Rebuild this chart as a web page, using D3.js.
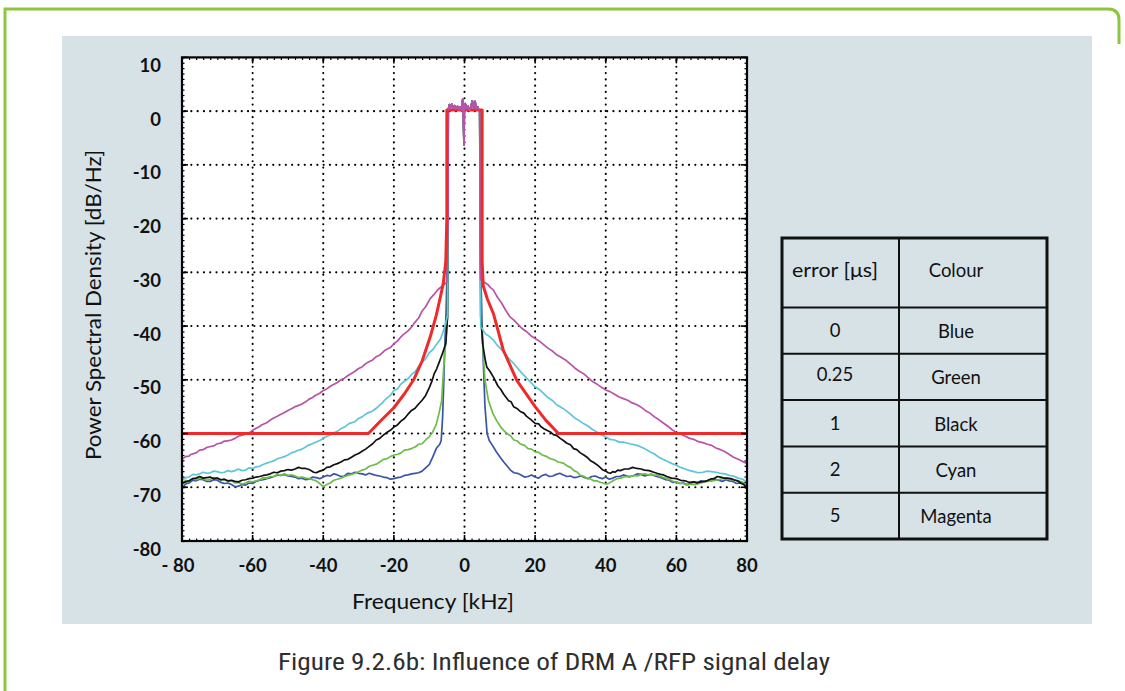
<!DOCTYPE html>
<html><head><meta charset="utf-8">
<script src="https://cdn.jsdelivr.net/npm/d3@7"></script>
<style>html,body{margin:0;padding:0;background:#fff;}svg{display:block;}</style>
</head><body>
<svg id="c" width="1125" height="691"></svg>
<script>
// ---------- data ----------
const xTicks = [-80,-60,-40,-20,0,20,40,60,80];
const xTickLabels = ["- 80","-60","-40","-20","0","20","40","60","80"];
const yTicks = [10,0,-10,-20,-30,-40,-50,-60,-70,-80];
const yTickLabels = ["10","0","-10","-20","-30","-40","-50","-60","-70","-80"];

const errorValues = ["0","0.25","1","2","5"];
const colourNames = ["Blue","Green","Black","Cyan","Magenta"];

// shared in-band plateau (all traces overlap here)
const plateau = [[-4.6,0.2],[-4.3,1.2],[-4.0,0.6],[-3.6,1.3],[-3.2,0.5],[-2.8,1.0],[-2.4,0.4],[-2.0,0.9],[-1.6,0.3],[-1.2,0.8],[-0.8,0.2],[-0.5,2.2],[-0.35,0.5],[-0.15,-6.3],[-0.05,0.2],[0.2,1.4],[0.6,0.4],[1.0,0.9],[1.4,0.2],[1.8,0.7],[2.2,1.9],[2.6,0.5],[3.0,1.8],[3.3,0.4],[3.7,0.8],[4.0,0.3],[4.3,0.2]];

const blueLeft = [[-80,-70.1],[-79,-69.4],[-78,-69.2],[-77,-68.7],[-76,-68.8],[-75,-68.5],[-74,-68.6],[-73,-68.9],[-72,-68.9],[-71,-68.6],[-70,-68.7],[-69,-69.1],[-68,-69.3],[-67,-69.2],[-66,-69.5],[-65,-69.9],[-64,-69.8],[-63,-69.5],[-62,-69.6],[-61,-69.2],[-60,-69.3],[-59,-68.9],[-58,-68.7],[-57,-68.6],[-56,-68.4],[-55,-68.2],[-54,-68.0],[-53,-67.7],[-52,-67.8],[-51,-67.6],[-50,-67.9],[-49,-68.0],[-48,-68.1],[-47,-68.4],[-46,-68.3],[-45,-68.6],[-44,-68.5],[-43,-68.1],[-42,-68.2],[-41,-68.4],[-40,-68.1],[-39,-67.8],[-38,-67.9],[-37,-67.5],[-36,-67.7],[-35,-68.0],[-34,-67.9],[-33,-67.4],[-32,-67.5],[-31,-67.2],[-30,-67.4],[-29,-67.5],[-28,-67.7],[-27,-67.4],[-26,-67.6],[-25,-67.8],[-24,-67.9],[-23,-68.1],[-22,-68.2],[-21,-68.5],[-20,-68.4],[-19,-68.2],[-18,-68.1],[-17,-67.8],[-16,-67.7],[-15,-67.5],[-14,-67.4],[-13,-67.3],[-12,-67.0],[-11,-66.4],[-10,-65.8],[-9,-64.4],[-8,-62.8],[-7,-62.0],[-6.6,-61.3],[-6.2,-57],[-5.9,-51],[-5.6,-44],[-5.2,-37],[-4.8,-25],[-4.65,-5]];
const blueRight = [[4.4,-10],[4.6,-30],[5.0,-40],[5.4,-48],[5.8,-55],[6.4,-60],[7,-61.3],[8,-62.3],[9,-63.4],[10,-64.3],[11,-65.2],[12,-66],[13,-66.8],[14,-67.3],[15,-67.4],[16,-67.7],[17,-68.1],[18,-68.0],[19,-67.7],[20,-68.1],[21,-68.3],[22,-67.8],[23,-67.6],[24,-68.0],[25,-67.9],[26,-67.6],[27,-67.4],[28,-67.7],[29,-68.0],[30,-67.9],[31,-68.2],[32,-68.1],[33,-67.9],[34,-68.2],[35,-68.4],[36,-68.0],[37,-67.9],[38,-68.2],[39,-68.4],[40,-68.1],[41,-68.5],[42,-68.3],[43,-68.0],[44,-68.0],[45,-67.7],[46,-67.9],[47,-68.0],[48,-67.8],[49,-67.5],[50,-67.6],[51,-67.9],[52,-67.7],[53,-67.6],[54,-67.9],[55,-68.1],[56,-68.3],[57,-68.6],[58,-68.7],[59,-69.1],[60,-69.0],[61,-69.3],[62,-69.2],[63,-69.5],[64,-69.3],[65,-69.0],[66,-69.1],[67,-68.8],[68,-69.0],[69,-68.7],[70,-68.8],[71,-68.5],[72,-68.7],[73,-68.9],[74,-68.6],[75,-68.8],[76,-68.9],[77,-69.3],[78,-69.2],[79,-69.4],[80,-69.7]];

const greenLeft = [[-80,-69.3],[-79,-68.7],[-78,-68.9],[-77,-68.4],[-76,-68.6],[-75,-68.3],[-74,-68.4],[-73,-68.7],[-72,-68.5],[-71,-68.2],[-70,-68.3],[-69,-68.7],[-68,-68.6],[-67,-68.9],[-66,-68.8],[-65,-69.2],[-64,-69.1],[-63,-69.4],[-62,-69.2],[-61,-68.9],[-60,-69.0],[-59,-68.8],[-58,-68.6],[-57,-68.2],[-56,-68.3],[-55,-68.0],[-54,-68.0],[-53,-67.6],[-52,-67.8],[-51,-67.5],[-50,-67.8],[-49,-67.7],[-48,-67.9],[-47,-68.2],[-46,-68.1],[-45,-68.3],[-44,-68.4],[-43,-68.6],[-42,-68.8],[-41,-69.3],[-40,-69.9],[-39,-69.5],[-38,-69.2],[-37,-68.7],[-36,-68.5],[-35,-68.3],[-34,-68.0],[-33,-67.8],[-32,-67.6],[-31,-67.4],[-30,-67.1],[-29,-66.8],[-28,-66.6],[-27,-66.1],[-26,-65.9],[-25,-65.7],[-24,-65.3],[-23,-64.8],[-22,-64.7],[-21,-64.3],[-20,-64.0],[-19,-63.9],[-18,-63.6],[-17,-63.1],[-16,-63.0],[-15,-62.8],[-14,-62.5],[-13,-62.0],[-12,-61.9],[-11,-61.2],[-10,-60.6],[-9,-59.7],[-8,-58.3],[-7.2,-56.2],[-6.5,-54],[-6.0,-49],[-5.6,-45],[-5.2,-42],[-4.8,-38],[-4.65,-10]];
const greenRight = [[4.4,-20],[4.7,-38],[5.0,-42],[5.4,-46],[5.8,-50.1],[6.8,-53.9],[8,-56.2],[9.1,-57.6],[10.5,-59.0],[12,-60],[13,-60.4],[14,-61.2],[15,-61.4],[15.7,-61.9],[17,-62.2],[18,-62.8],[19,-62.9],[20,-63.4],[21,-63.5],[22,-64.0],[23,-64.2],[24.3,-64.7],[25.5,-64.9],[26.5,-65.3],[28,-65.5],[29,-66],[30,-66.3],[31,-66.9],[32,-67.2],[32.8,-67.8],[34,-68.0],[34.5,-68.3],[35.5,-68.4],[36.6,-68.8],[37.5,-68.8],[38.5,-69.1],[39.3,-69.2],[40,-69.4],[40.8,-69.3],[41.5,-69.0],[42.3,-68.7],[43.2,-68.4],[44.3,-68.3],[45.5,-68.0],[46.7,-68.1],[47.9,-67.8],[49,-67.9],[50,-67.6],[51,-67.5],[52,-67.7],[53,-67.6],[53.6,-67.8],[54.5,-67.7],[55.5,-68.0],[56.5,-68.2],[57.3,-68.4],[58,-68.5],[59,-68.9],[60,-69.0],[61.1,-69.3],[62,-69.3],[63,-69.6],[64,-69.4],[64.9,-69.5],[66,-69.4],[67,-69.2],[68,-69.0],[69.6,-68.8],[71,-68.7],[72,-68.6],[73,-68.4],[74.4,-68.4],[75.5,-68.6],[76.5,-68.7],[77.5,-68.8],[78.5,-69.0],[79.3,-69.2],[80,-69.5]];

const blackLeft = [[-80,-69.3],[-79,-69.0],[-78,-68.8],[-77,-68.4],[-76,-68.3],[-75,-68.0],[-74,-68.3],[-73,-68.2],[-72,-68.1],[-71,-68.4],[-70,-68.3],[-69,-68.6],[-68,-68.5],[-67,-68.8],[-66,-68.7],[-65,-68.9],[-64,-69.0],[-63,-68.7],[-62,-68.6],[-61,-68.4],[-60,-68.3],[-59,-68.1],[-58,-68.0],[-57,-67.8],[-56,-67.7],[-55,-67.5],[-54,-67.2],[-53,-67.3],[-52,-67.0],[-51,-66.9],[-50,-66.7],[-49,-66.8],[-48,-66.6],[-47,-66.3],[-46,-66.5],[-45,-66.5],[-44,-66.7],[-43.5,-66.9],[-42.7,-67.2],[-42,-67.3],[-41,-67.0],[-40,-66.8],[-39,-66.3],[-38,-66.2],[-37,-65.8],[-36,-65.6],[-35,-65.3],[-34,-64.9],[-33,-64.8],[-32,-64.4],[-31,-64.0],[-30,-63.7],[-29,-63.3],[-28,-62.9],[-27,-62.4],[-26,-61.9],[-25,-61.2],[-24,-60.9],[-23,-60.3],[-22,-59.8],[-21,-59.4],[-20,-58.8],[-19,-58.4],[-18,-57.7],[-17,-57.2],[-16,-56.4],[-15,-55.7],[-14,-55.3],[-13,-54.5],[-12,-53.8],[-11,-52.9],[-10,-51.5],[-9.3,-50.4],[-8.6,-48.9],[-7.9,-48.0],[-7.2,-46.8],[-6.2,-45.0],[-5.3,-43.3],[-4.8,-38.3],[-4.65,-10]];
const blackRight = [[4.45,-20],[4.6,-38.3],[5.2,-43.5],[5.8,-46.0],[6.3,-47.6],[7.2,-48.4],[8.2,-49.5],[9.5,-51.2],[10.3,-51.8],[11,-52.6],[12.5,-53.9],[13.2,-54.1],[13.9,-55],[15,-55.4],[15.8,-55.9],[16.8,-56.2],[17.6,-56.8],[18.8,-57.4],[20,-58.1],[21,-58.2],[21.6,-58.7],[22.5,-59.1],[23.3,-59.4],[24.3,-59.7],[25.2,-60.2],[26.2,-60.4],[27.1,-60.9],[28,-61.3],[29,-61.8],[30,-62.1],[30.9,-62.8],[31.8,-63.0],[32.8,-63.6],[33.8,-64.0],[34.7,-64.4],[35.6,-65.0],[36.6,-65.4],[37.5,-65.8],[38.4,-66.3],[39.2,-66.8],[40,-67.0],[40.7,-67.3],[41.3,-67.4],[42,-67.1],[42.7,-67.2],[43.4,-66.8],[44.1,-66.9],[45.3,-66.6],[46.5,-66.6],[47.6,-66.3],[48.8,-66.5],[50,-66.6],[51,-66.8],[52.3,-66.9],[53.6,-67.2],[54.5,-67.4],[55.5,-67.6],[56.4,-67.7],[57.3,-68.0],[58.6,-68.3],[60,-68.4],[61.2,-68.7],[62.5,-68.8],[63.7,-69.1],[64.9,-69.0],[65.8,-69.2],[66.8,-69.0],[67.8,-68.9],[68.7,-68.8],[69.6,-68.5],[70.6,-68.4],[71.6,-68.0],[72.5,-68.1],[73.5,-68.3],[74.4,-68.3],[75.4,-68.4],[76.3,-68.6],[77.3,-68.8],[78.2,-69.2],[79.1,-69.5],[80,-70.3]];

const cyanLeft = [[-80,-68.7],[-79,-68.2],[-78,-68.1],[-77,-67.6],[-76,-67.7],[-75,-67.5],[-74,-67.2],[-73,-67.4],[-72,-67.3],[-71,-67.0],[-70,-67.1],[-69,-67.3],[-68,-67.2],[-67,-66.9],[-66,-67.1],[-65,-66.9],[-64,-66.6],[-63,-66.9],[-62,-66.8],[-61,-66.4],[-60,-66.5],[-59,-66.2],[-58,-66.1],[-57.5,-65.9],[-56,-65.5],[-55,-65.3],[-54,-65.1],[-53,-64.7],[-52.5,-64.6],[-51,-64.3],[-50,-64.0],[-49,-63.6],[-48,-63.4],[-47.5,-63.2],[-46,-62.9],[-45,-62.5],[-44,-62.1],[-43,-61.9],[-42.5,-61.7],[-41,-61.3],[-40,-60.9],[-39,-60.5],[-38,-60.3],[-37.5,-60.0],[-36,-59.6],[-35,-59.1],[-34,-58.8],[-33,-58.3],[-32.5,-58.1],[-31,-57.8],[-30,-57.2],[-29,-56.9],[-28,-56.4],[-27.5,-56.2],[-26,-55.8],[-25,-55.3],[-24,-54.7],[-23,-54.1],[-22.5,-53.7],[-21,-52.9],[-20,-52.0],[-19,-51.7],[-18,-50.8],[-17.5,-50.5],[-16,-49.8],[-15,-49.0],[-14,-48.5],[-13,-47.5],[-12.5,-47.0],[-11,-46.1],[-10,-45.0],[-9,-44.4],[-8,-43.5],[-6.8,-42.4],[-5.5,-40.0],[-4.8,-38.0],[-4.65,-10]];
const cyanRight = [[4.45,-20],[4.6,-40.1],[5.3,-40.8],[6,-41.5],[7,-41.9],[8.2,-42.6],[9.3,-43.6],[10.5,-44.4],[11.8,-45.5],[12.9,-46.3],[14,-47.0],[15,-47.8],[16.3,-48.8],[17.5,-49.6],[18.8,-50.5],[20,-51.3],[21.2,-51.8],[22.5,-52.6],[23.8,-53.4],[25,-53.9],[26,-54.6],[27.1,-55.0],[28.5,-55.6],[30,-56.4],[31.2,-57.1],[32.5,-57.6],[33.8,-58.2],[35,-58.6],[36.3,-59.3],[37.5,-59.7],[38.8,-60.3],[40,-60.6],[41.2,-61.1],[42.5,-61.2],[43.8,-61.6],[45,-61.6],[46.2,-61.8],[47.5,-62.0],[48.8,-62.2],[50,-62.5],[51.2,-62.9],[52.5,-63.4],[53.8,-63.8],[55,-64.4],[56.2,-64.8],[57.5,-65.2],[58.8,-65.6],[60,-65.9],[61.2,-66.3],[62.5,-66.6],[63.8,-66.9],[65,-67.1],[66.2,-67.3],[67.5,-67.2],[68.8,-67.0],[70,-67.1],[71.2,-67.2],[72.5,-67.4],[73.8,-67.5],[75,-67.8],[76.2,-67.9],[77.5,-68.3],[78.8,-68.5],[80,-69.0]];

const magentaLeft = [[-80,-64.8],[-79,-64.3],[-78,-64.2],[-77.5,-63.9],[-76,-63.6],[-75,-63.1],[-74,-63.0],[-73,-62.6],[-72.5,-62.5],[-71,-62.3],[-70,-61.9],[-69,-61.8],[-68,-61.4],[-67.5,-61.4],[-66,-61.2],[-65,-60.9],[-64,-60.5],[-63,-60.3],[-62.5,-60.2],[-61,-59.9],[-60,-59.4],[-59,-59.0],[-58,-58.7],[-57.5,-58.4],[-56,-58.0],[-55,-57.5],[-54,-57.1],[-53,-56.8],[-52.5,-56.6],[-51,-56.1],[-50,-55.7],[-49,-55.4],[-48,-55.0],[-47.5,-54.9],[-46,-54.5],[-45,-54.1],[-44,-53.6],[-43,-53.3],[-42.5,-53.0],[-41,-52.5],[-40,-52.0],[-39,-51.7],[-38,-51.2],[-37.5,-51.0],[-36,-50.5],[-35,-50.0],[-34,-49.7],[-33,-49.2],[-32.5,-49.0],[-31,-48.4],[-30,-47.9],[-29,-47.6],[-28,-47.0],[-27.5,-46.8],[-26,-46.3],[-25,-45.7],[-24,-45.4],[-23,-44.8],[-22.5,-44.5],[-21,-44.0],[-20,-43.3],[-19,-42.8],[-18,-42.0],[-17.5,-41.7],[-16,-40.9],[-15,-40.2],[-14.4,-39.6],[-13,-38.5],[-12,-37.2],[-11,-36.4],[-9.7,-34.9],[-8.5,-34.0],[-7.5,-33.2],[-6,-32.4],[-5.0,-31.8],[-4.65,-20]];
const magentaRight = [[4.45,-20],[4.6,-31.4],[5.5,-31.8],[6.5,-32.2],[7.3,-32.8],[8.2,-33.3],[9.3,-34.6],[10.5,-35.7],[11.7,-37.1],[12.9,-38.3],[14,-38.9],[15,-39.6],[16.2,-40.4],[17.5,-41.0],[18.8,-41.8],[20,-42.3],[21.2,-42.8],[22.5,-43.5],[23.8,-44.2],[25,-44.7],[26,-45.3],[27.1,-45.7],[28.6,-46.3],[30,-47.1],[31.2,-47.8],[32.5,-48.4],[33.8,-48.9],[35,-49.6],[36.2,-50.3],[37.5,-50.8],[38.8,-51.4],[40,-51.9],[41.2,-52.2],[42.5,-52.7],[43.8,-53.2],[45,-53.5],[46.2,-53.8],[47.5,-54.3],[48.7,-54.6],[49.8,-55.0],[51.2,-55.7],[52.5,-56.2],[53.8,-56.9],[55,-57.4],[56.2,-58.0],[57.5,-58.6],[58.8,-59.3],[60,-59.8],[61.2,-60.1],[62.5,-60.5],[63.8,-60.9],[65,-61.1],[66.2,-61.5],[67.5,-61.7],[68.8,-62.0],[70,-62.2],[71.2,-62.7],[72.5,-63.0],[73.8,-63.4],[75,-63.9],[76.2,-64.4],[77.5,-64.8],[78.8,-65.2],[80,-65.6]];

const maskPoints = [[-80,-60],[-27.2,-60],[-24,-57.8],[-20,-55.2],[-17,-52.6],[-14.4,-50.0],[-12,-46.5],[-9.7,-42.0],[-8,-38.0],[-6.8,-34.5],[-6,-32],[-5.3,-28],[-5.0,-20],[-5.0,0.2],[5.0,0.2],[5.0,-28],[5.3,-32.5],[6.5,-35],[8.2,-37.7],[11,-44.5],[14.8,-50.1],[20,-55],[23,-57.5],[26.6,-60],[80,-60]];

const seriesNames = ["Blue","Green","Black","Cyan","Magenta"];
const seriesColors = ["#3a55a5","#6cbd47","#111111","#5cc6d8","#b753a9"];
const seriesData = [
  blueLeft.concat(plateau, blueRight),
  greenLeft.concat(plateau, greenRight),
  blackLeft.concat(plateau, blackRight),
  cyanLeft.concat(plateau, cyanRight),
  magentaLeft.concat(plateau, magentaRight)
];

// ---------- drawing ----------
const svg = d3.select("#c");
const L = 182, R = 747, T = 57.4, B = 541;
const x = d3.scaleLinear().domain([-80,80]).range([L,R]);
const y = d3.scaleLinear().domain([-80,10]).range([B,T]);

// outer decorative green frame
svg.append("path")
  .attr("d", "M5,691 L5,9 L1108,9 Q1119,9 1119,20 L1119,44")
  .attr("fill","none").attr("stroke","#8cc63f").attr("stroke-width",3);

// grey panel
svg.append("rect").attr("x",62).attr("y",36).attr("width",1030).attr("height",588).attr("fill","#d7e2e7");

// plot background
svg.append("rect").attr("x",L).attr("y",T).attr("width",R-L).attr("height",B-T).attr("fill","#fff");

// dotted grid
const grid = svg.append("g").attr("stroke","#000").attr("stroke-width",2.1)
  .attr("stroke-linecap","round").attr("stroke-dasharray","0.1,6.2").attr("fill","none");
xTicks.slice(1,-1).forEach(v => grid.append("line").attr("x1",x(v)).attr("x2",x(v)).attr("y1",T+3).attr("y2",B));
yTicks.slice(1,-1).forEach(v => grid.append("line").attr("x1",L+3).attr("x2",R).attr("y1",y(v)).attr("y2",y(v)));

// curves
const line = d3.line().x(d => x(d[0])).y(d => y(d[1]));
const curves = svg.append("g").attr("fill","none").attr("stroke-linejoin","round");
seriesData.forEach((d,i) => {
  curves.append("path").datum(d).attr("d",line)
    .attr("stroke",seriesColors[i]).attr("stroke-width",1.7);
});
curves.append("path").datum(maskPoints).attr("d",d3.line().x(d => x(d[0])).y(d => y(d[1])).curve(d3.curveMonotoneY === undefined ? d3.curveLinear : d3.curveLinear))
  .attr("stroke","#ee2a2a").attr("stroke-width",3);
// redraw the in-band magenta on top
curves.append("path").datum(plateau).attr("d",line).attr("stroke","#b753a9").attr("stroke-width",1.8);

// axes: frame with ticks
const axG = svg.append("g");
const ax = d3.axisBottom(x).tickValues(d3.range(-80,81,2)).tickSize(-2.5).tickFormat("");
const axT = d3.axisTop(x).tickValues(d3.range(-80,81,2)).tickSize(-2.5).tickFormat("");
const ayL = d3.axisLeft(y).tickValues(d3.range(-80,11,1)).tickSize(-2.5).tickFormat("");
const ayR = d3.axisRight(y).tickValues(d3.range(-80,11,1)).tickSize(-2.5).tickFormat("");
axG.append("g").attr("transform",`translate(0,${B})`).call(ax);
axG.append("g").attr("transform",`translate(0,${T})`).call(axT);
axG.append("g").attr("transform",`translate(${L},0)`).call(ayL);
axG.append("g").attr("transform",`translate(${R},0)`).call(ayR);
axG.selectAll(".domain").remove();
axG.selectAll(".tick line").attr("stroke","#000").attr("stroke-width",1.2);
// major ticks
const maj = svg.append("g").attr("stroke","#000").attr("stroke-width",1.6);
xTicks.forEach(v => {
  maj.append("line").attr("x1",x(v)).attr("x2",x(v)).attr("y1",B).attr("y2",B-6);
  maj.append("line").attr("x1",x(v)).attr("x2",x(v)).attr("y1",T).attr("y2",T+6);
});
yTicks.forEach(v => {
  maj.append("line").attr("x1",L).attr("x2",L+6).attr("y1",y(v)).attr("y2",y(v));
  maj.append("line").attr("x1",R).attr("x2",R-6).attr("y1",y(v)).attr("y2",y(v));
});
svg.append("rect").attr("x",L).attr("y",T).attr("width",R-L).attr("height",B-T)
  .attr("fill","none").attr("stroke","#000").attr("stroke-width",2.2);

// tick labels
const lblFont = "Lato, 'Open Sans', sans-serif";
svg.append("g").selectAll("text").data(yTicks).join("text")
  .attr("x",161).attr("y",d => y(d)+14.5)
  .attr("text-anchor","end").attr("font-family",lblFont).attr("font-weight",700)
  .attr("font-size",18.5).attr("fill","#111").text((d,i) => yTickLabels[i]);
svg.append("g").selectAll("text").data(xTicks).join("text")
  .attr("x",(d,i) => x(d) + (i===0 ? -4 : 0)).attr("y",572)
  .attr("text-anchor","middle").attr("font-family",lblFont).attr("font-weight",700)
  .attr("font-size",18.5).attr("fill","#111").text((d,i) => xTickLabels[i]);

// axis titles
svg.append("text").attr("x",433).attr("y",609).attr("text-anchor","middle")
  .attr("font-family",lblFont).attr("font-size",21.5).attr("fill","#111")
  .attr("textLength",162).attr("lengthAdjust","spacingAndGlyphs").text("Frequency [kHz]");
svg.append("text").attr("transform","translate(101,305) rotate(-90)").attr("text-anchor","middle")
  .attr("font-family",lblFont).attr("font-size",21.5).attr("fill","#111")
  .attr("textLength",310).attr("lengthAdjust","spacingAndGlyphs").text("Power Spectral Density [dB/Hz]");

// legend table
const tL = 782, tR = 1047, tT = 238, tB = 539, tMid = 899, hdrB = 307.5, rowH = (tB - hdrB)/5;
const tbl = svg.append("g");
tbl.append("rect").attr("x",tL).attr("y",tT).attr("width",tR-tL).attr("height",tB-tT)
  .attr("fill","none").attr("stroke","#111").attr("stroke-width",3);
tbl.append("line").attr("x1",tMid).attr("x2",tMid).attr("y1",tT).attr("y2",tB).attr("stroke","#111").attr("stroke-width",2);
d3.range(5).forEach(i => {
  const yy = hdrB + i*rowH;
  tbl.append("line").attr("x1",tL).attr("x2",tR).attr("y1",yy).attr("y2",yy).attr("stroke","#111").attr("stroke-width",2);
});
const tfs = 18.5;
tbl.append("text").attr("x",835).attr("y",277).attr("text-anchor","middle").attr("font-family",lblFont)
  .attr("font-size",tfs).attr("fill","#111").attr("textLength",86).attr("lengthAdjust","spacingAndGlyphs").text("error [μs]");
tbl.append("text").attr("x",956).attr("y",277).attr("text-anchor","middle").attr("font-family",lblFont)
  .attr("font-size",tfs).attr("fill","#111").text("Colour");
errorValues.forEach((v,i) => {
  const cy = hdrB + (i+0.5)*rowH;
  tbl.append("text").attr("x",835).attr("y",cy + 6.5 - (i===1?2:0)).attr("text-anchor","middle")
    .attr("font-family",lblFont).attr("font-size",tfs).attr("fill","#111").text(v);
  tbl.append("text").attr("x",956).attr("y",cy + 7.5).attr("text-anchor","middle")
    .attr("font-family",lblFont).attr("font-size",tfs).attr("fill","#111").text(colourNames[i]);
});

// caption
svg.append("text").attr("x",554).attr("y",670).attr("text-anchor","middle")
  .attr("font-family","'Liberation Sans Narrow','Roboto Condensed',Roboto,sans-serif")
  .attr("font-size",23.5).attr("fill","#2e2e2e")
  .attr("textLength",552).attr("lengthAdjust","spacingAndGlyphs")
  .text("Figure 9.2.6b: Influence of DRM A /RFP signal delay");
</script>
</body></html>
